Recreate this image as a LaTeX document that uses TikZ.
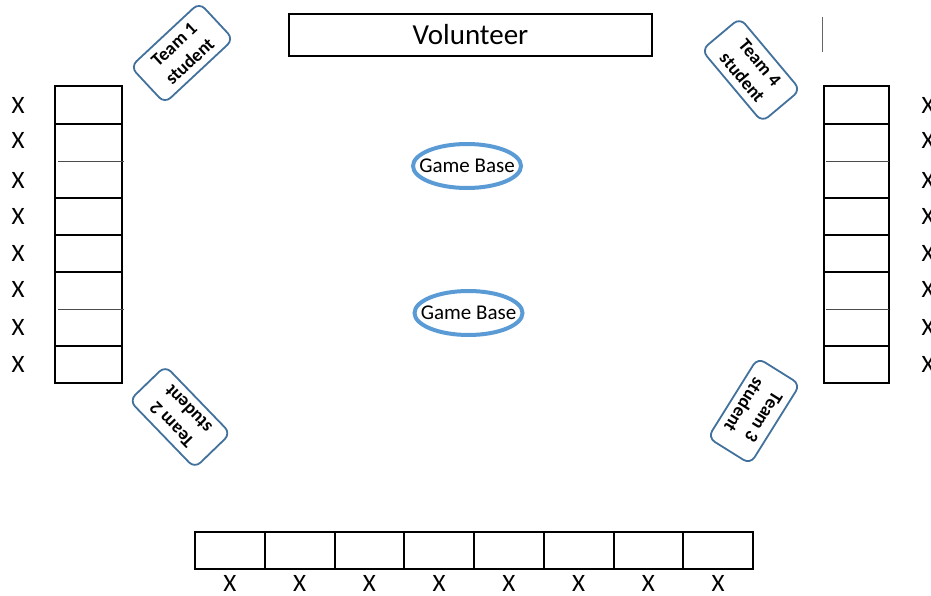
\documentclass[tikz,border=0pt]{standalone}
\usepackage{fontspec}
\setmainfont{Carlito}
\usetikzlibrary{shapes.geometric}
\usetikzlibrary{positioning}
\definecolor{basering}{HTML}{5B9BD5}
\definecolor{teamline}{HTML}{41719C}
\tikzset{
    cellline/.style = {draw=black, line width=2pt},
    cellbox/.style = {rectangle, draw=black, line width=2pt, inner sep=0pt, minimum width=69.75, minimum height=37},
    splitline/.style = {draw=black!70, line width=0.9pt},
    namebox/.style = {rectangle, draw=black, line width=2pt, minimum width=363, minimum height=42, font=\fontsize{29}{30}\selectfont},
    gamebase/.style = {ellipse, draw=basering, line width=4pt, minimum width=108, minimum height=44, inner sep=0pt},
    basetext/.style = {inner sep=0pt, font=\fontsize{21}{22}\selectfont},
    teambox/.style = {rectangle, rounded corners=8pt, draw=teamline, line width=1.8pt, minimum width=94, minimum height=50, inner sep=0pt, align=center, font=\bfseries\fontsize{18.5}{23}\selectfont},
    xmark/.style = {inner sep=0pt, font=\fontsize{25}{28}\selectfont}
}

\begin{document}
\begin{tikzpicture}[x=1pt, y=-1pt]
  \useasboundingbox (0,0) rectangle (931,596);

  % volunteer and the two bases
  \node[namebox] (vol) at (470.5,35) {Volunteer};
  \node[gamebase] (base1) at (467,166) {};
  \node[basetext] (base1txt) at (base1) {Game Base};
  \node[gamebase] (base2) at (468.5,313) {};
  \node[basetext] (base2txt) at (base2) {Game Base};
  \draw[black!60, line width=1pt] (822,17) -- (822,52);

  % team students
  \node[teambox, rotate=43] (team1) at (182,53) {Team 1\\student};
  \node[teambox, rotate=-50] (team4) at (751,70) {Team 4\\student};
  \node[teambox, rotate=134] (team2) at (180,417) {Team 2\\student};
  \node[teambox, rotate=-122] (team3) at (754,411) {Team 3\\student};

  % side columns
  \foreach \top/\bot in {86/124,124/198,198/235,235/272,272/346,346/383} {
    \draw[cellline] (55,\top) rectangle (122,\bot);
    \draw[cellline] (824,\top) rectangle (889,\bot);
  }
  \foreach \y in {161,309} {
    \draw[splitline] (58,\y) -- (124,\y);
    \draw[splitline] (826,\y) -- (889,\y);
  }
  \foreach \y [count=\i] in {105,140,180,216,253,289,327,364} {
    \node[xmark] (xl\i) at (18,\y) {X};
    \node[xmark] (xr\i) at (928,\y) {X};
  }

  % bottom row
  \foreach \i in {1,...,8} {
    \node[cellbox] (cell\i) at (195+69.75*\i-34.875,550.5) {};
    \node[xmark, below=5pt of cell\i] (xb\i) {X};
  }
\end{tikzpicture}
\end{document}
